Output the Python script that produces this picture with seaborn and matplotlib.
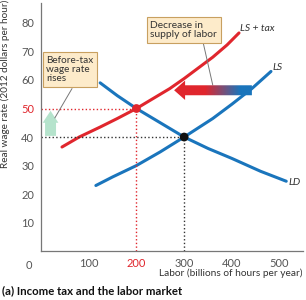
import numpy as np
import pandas as pd
import seaborn as sns
import matplotlib.pyplot as plt
from matplotlib.patches import FancyArrow
from matplotlib.colors import LinearSegmentedColormap

# curves
ls_x = [115, 150, 200, 250, 300, 360, 400, 442, 482]
ls_y = [23, 26, 30, 34.8, 40, 46.5, 51.5, 57, 63]
lstax_x = [44, 80, 124, 160, 200, 235, 270, 300, 360, 390, 415]
lstax_y = [36.5, 40, 43.5, 46.5, 50, 53.5, 57, 60.5, 68, 72.3, 76.5]
ld_x = [124, 160, 200, 250, 300, 350, 400, 460, 514]
ld_y = [59, 54.5, 50, 45, 40, 36, 32.5, 28, 24.5]

eq_before = (300, 40)
eq_tax = (200, 50)

x_ticks = [100, 200, 300, 400, 500]
y_ticks = [10, 20, 30, 40, 50, 60, 70, 80]

RED = '#e0262d'
BLUE = '#1a75bc'
GREY = '#555555'

sns.set_style('white')
plt.rcParams['font.family'] = ['Lato', 'DejaVu Sans']

fig = plt.figure(figsize=(3.06, 3.0), dpi=100)
ax = fig.add_axes([0.134, 0.163, 0.856, 0.827])

sns.lineplot(x=ls_x, y=ls_y, color=BLUE, lw=2.2, ax=ax, sort=False)
sns.lineplot(x=ld_x, y=ld_y, color=BLUE, lw=2.2, ax=ax, sort=False)
sns.lineplot(x=lstax_x, y=lstax_y, color=RED, lw=2.2, ax=ax, sort=False)

# dotted guides
ax.plot([0, eq_tax[0]], [eq_tax[1]] * 2, ls=':', color=RED, lw=1)
ax.plot([eq_tax[0]] * 2, [0, eq_tax[1]], ls=':', color=RED, lw=1)
ax.plot([0, eq_before[0]], [eq_before[1]] * 2, ls=':', color='#333333', lw=1)
ax.plot([eq_before[0]] * 2, [0, eq_before[1]], ls=':', color='#333333', lw=1)

sns.scatterplot(x=[eq_tax[0]], y=[eq_tax[1]], color=RED, s=40, zorder=5, ax=ax, edgecolor='none')
sns.scatterplot(x=[eq_before[0]], y=[eq_before[1]], color='#111111', s=40, zorder=5, ax=ax, edgecolor='none')

# gradient shift arrow
arr = FancyArrow(442, 56.4, -163, 0, width=3.5, head_width=6.8, head_length=23,
                 length_includes_head=True, lw=0, fc='none')
ax.add_patch(arr)
cmap = LinearSegmentedColormap.from_list('shift', [(0, RED), (0.4, RED), (0.85, BLUE), (1, BLUE)])
grad = np.linspace(0, 1, 256).reshape(1, -1)
im = ax.imshow(grad, extent=[279, 442, 52, 61], aspect='auto', cmap=cmap, zorder=4)
im.set_clip_path(arr)

# green up arrow
ax.add_patch(FancyArrow(20, 40.4, 0, 8.8, width=23, head_width=33, head_length=4.2,
                        length_includes_head=True, lw=0, fc='#b5e3cc'))

box = dict(boxstyle='square,pad=0.35', fc='#fdebca', ec='#c8a060', lw=0.8)
ax.plot([340, 360], [73, 58.2], color='#777777', lw=0.7)
ax.text(229, 77.5, 'Decrease in\nsupply of labor', fontsize=7.4, color='#333333',
        va='center', ha='left', bbox=box, linespacing=1.05)
ax.plot([65, 29], [57, 46.7], color='#777777', lw=0.7)
ax.text(11, 63.7, 'Before-tax\nwage rate\nrises', fontsize=7.2, color='#333333',
        va='center', ha='left', bbox=box, linespacing=1.05)

ax.text(417, 78, 'LS + tax', fontsize=7.5, style='italic', color='#333333', va='center')
ax.text(486, 64.5, 'LS', fontsize=7.5, style='italic', color='#333333', va='center')
ax.text(518, 24, 'LD', fontsize=7.5, style='italic', color='#333333', va='center')

ax.set_xlim(0, 549)
ax.set_ylim(0, 87)
ax.set_xticks(x_ticks)
ax.set_yticks(y_ticks)
ax.tick_params(direction='in', length=3, width=0.8, color='#777777', labelsize=8,
               labelcolor=GREY, pad=5)
for lab in ax.get_yticklabels():
    if lab.get_text() == '50':
        lab.set_color(RED)
for lab in ax.get_xticklabels():
    if lab.get_text() == '200':
        lab.set_color(RED)
ax.text(-0.035, -0.035, '0', transform=ax.transAxes, fontsize=8, color=GREY,
        ha='right', va='top')

for s in ['top', 'right']:
    ax.spines[s].set_visible(False)
for s in ['left', 'bottom']:
    ax.spines[s].set_color('#777777')
    ax.spines[s].set_linewidth(0.9)

ax.set_xlabel('Labor (billions of hours per year)', fontsize=7.3, color='#333333')
ax.xaxis.set_label_coords(1.0, -0.07)
ax.xaxis.label.set_horizontalalignment('right')
ax.set_ylabel('Real wage rate (2012 dollars per hour)', fontsize=7.2, color='#333333')
ax.yaxis.set_label_coords(-0.118, 0.673)

fig.text(0.007, 0.03, '(a) Income tax and the labor market', fontsize=8.2,
         fontweight='bold', color='#111111', ha='left', va='center')

fig.savefig('out.png', dpi=100)
